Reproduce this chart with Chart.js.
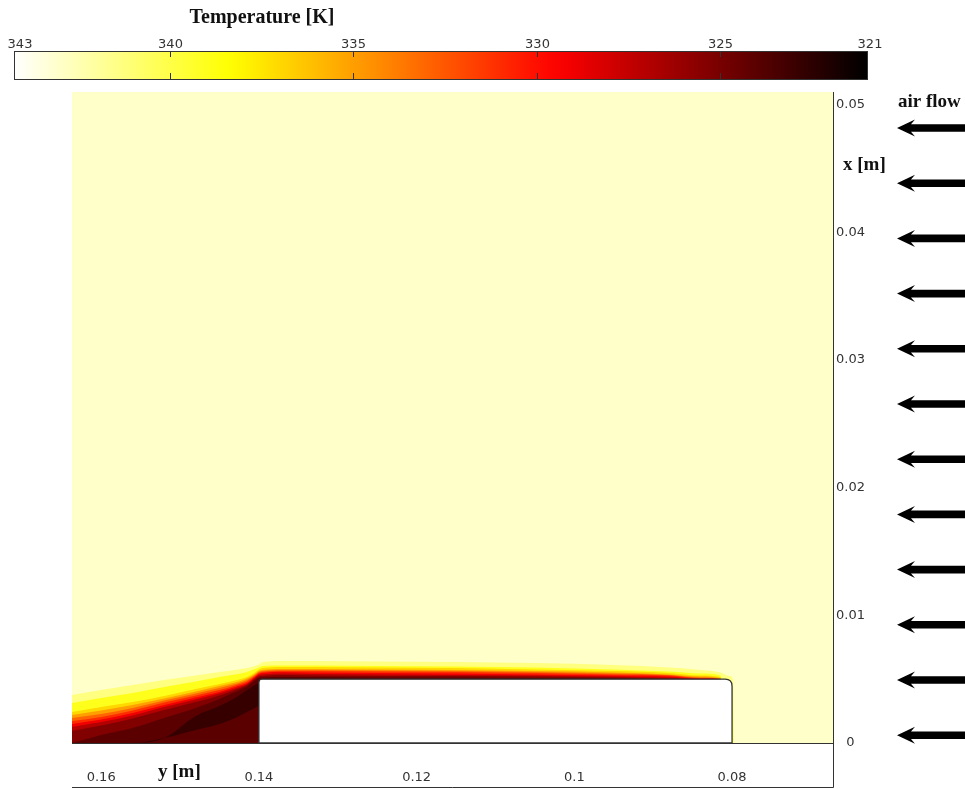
<!DOCTYPE html>
<html>
<head>
<meta charset="utf-8">
<script src="https://cdn.jsdelivr.net/npm/chart.js@4.4.0/dist/chart.umd.min.js"></script>
<style>
  html, body { margin: 0; padding: 0; background: #fff; }
</style>
</head>
<body>
<canvas id="campo" width="965" height="789"></canvas>
<script>
// colour scale (hot, white = warm, black = cold)
const cbarMin = 321, cbarMax = 344.25;
const cbarTicks = [340, 335, 330, 325];
const cbarEndLabels = ['343', '321'];
const ambientTemp = 343;

// axis ticks
const yTicks = [0.16, 0.14, 0.12, 0.10, 0.08];       // horizontal axis, y [m]
const xTicks = [0, 0.01, 0.02, 0.03, 0.04, 0.05];    // vertical axis, x [m]

// heated block (y from / to, height) in m
const block = { yFrom: 0.14, yTo: 0.08, top: 0.005 };

// stations along y [m] where isotherm heights were read
const stationsY = [0.1637, 0.160, 0.156, 0.152, 0.148, 0.145, 0.143, 0.1415, 0.1405, 0.140,
  0.1395, 0.137, 0.133, 0.125, 0.115, 0.105, 0.095, 0.088, 0.084, 0.0815, 0.0803, 0.0799, 0.0797, 0.0672];

// isotherm heights x [mm] at each station
const iso342 = [3.76, 4.15, 4.55, 4.94, 5.29, 5.56, 5.72, 5.88, 6.03, 6.15, 6.35, 6.43, 6.43, 6.39, 6.35, 6.27, 6.11, 5.92, 5.72, 5.53, 5.25, 5.0, 0, 0];
const iso340 = [3.13, 3.53, 3.92, 4.39, 4.82, 5.17, 5.37, 5.56, 5.80, 5.92, 6.03, 6.07, 6.07, 6.03, 6.00, 5.92, 5.76, 5.60, 5.45, 5.29, 0, 0, 0, 0];
const iso338 = [2.43, 2.82, 3.21, 3.68, 4.23, 4.62, 4.90, 5.17, 5.53, 5.76, 5.88, 5.96, 5.96, 5.92, 5.88, 5.76, 5.64, 5.49, 5.29, 5.17, 0, 0, 0, 0];
const iso336 = [2.19, 2.55, 2.98, 3.49, 4.04, 4.47, 4.74, 5.05, 5.41, 5.64, 5.72, 5.80, 5.80, 5.76, 5.72, 5.64, 5.53, 5.37, 5.21, 5.09, 0, 0, 0, 0];
const iso334 = [1.96, 2.27, 2.74, 3.33, 3.88, 4.31, 4.62, 4.94, 5.33, 5.56, 5.64, 5.72, 5.72, 5.68, 5.64, 5.56, 5.45, 5.33, 5.13, 5.02, 0, 0, 0, 0];
const iso332 = [1.72, 2.04, 2.55, 3.17, 3.72, 4.15, 4.51, 4.82, 5.25, 5.49, 5.56, 5.64, 5.64, 5.60, 5.56, 5.49, 5.37, 5.29, 5.09, 5.02, 0, 0, 0, 0];
const iso330 = [1.49, 1.84, 2.35, 2.98, 3.57, 4.00, 4.39, 4.70, 5.17, 5.41, 5.49, 5.56, 5.53, 5.49, 5.45, 5.37, 5.29, 5.21, 5.05, 5.02, 0, 0, 0, 0];
const iso328 = [1.25, 1.65, 2.16, 2.82, 3.41, 3.88, 4.27, 4.62, 5.09, 5.33, 5.37, 5.45, 5.41, 5.37, 5.33, 5.29, 5.21, 5.13, 5.02, 5.0, 0, 0, 0, 0];
const iso326 = [0.94, 1.37, 1.92, 2.59, 3.21, 3.72, 4.15, 4.55, 5.02, 5.21, 5.25, 5.33, 5.29, 5.25, 5.25, 5.21, 5.13, 5.05, 5.0, 5.0, 0, 0, 0, 0];
const iso324 = [0, 0.63, 1.18, 1.96, 2.74, 3.45, 4.00, 4.43, 4.90, 5.09, 5.13, 5.17, 5.17, 5.13, 5.13, 5.09, 5.05, 5.0, 5.0, 5.0, 0, 0, 0, 0];
// cold core next to the block (top and bottom edge)
const coreTop    = [0, 0, 0, 0.39, 2.12, 2.90, 3.53, 4.15, 4.55, 4.70, 0, 0, 0, 0, 0, 0, 0, 0, 0, 0, 0, 0, 0, 0];
const coreBottom = [0, 0, 0, 0.39, 1.02, 1.49, 1.96, 2.43, 2.74, 2.90, 0, 0, 0, 0, 0, 0, 0, 0, 0, 0, 0, 0, 0, 0];

function hot(T) {
    const t = Math.min(1, Math.max(0, (T - cbarMin) / (cbarMax - cbarMin)));
    const r = Math.min(1, t / 0.365);
    const g = Math.min(1, Math.max(0, (t - 0.365) / 0.381));
    const b = Math.min(1, Math.max(0, (t - 0.746) / 0.254));
    return `rgb(${Math.round(r * 255)},${Math.round(g * 255)},${Math.round(b * 255)})`;
}

function pts(arr) {
    return stationsY.map((y, i) => ({ x: y, y: arr[i] / 1000 }));
}

function banda(arr, temp, fill) {
    return {
        data: pts(arr),
        fill: fill,
        backgroundColor: hot(temp),
        borderColor: 'rgba(0,0,0,0)',
        borderWidth: 0,
        pointRadius: 0,
        cubicInterpolationMode: 'monotone'
    };
}

// first dataset is painted last (on top)
const datasets = [
    banda(coreBottom, 322.8, false),
    banda(coreTop, 322.8, '-1'),
    banda(iso324, 324, 'origin'),
    banda(iso326, 325.3, 'origin'),
    banda(iso328, 327, 'origin'),
    banda(iso330, 329, 'origin'),
    banda(iso332, 331, 'origin'),
    banda(iso334, 333, 'origin'),
    banda(iso336, 335, 'origin'),
    banda(iso338, 337, 'origin'),
    banda(iso340, 339, 'origin'),
    banda(iso342, 341.3, 'origin')
];

const tickFont = { family: 'DejaVu Sans', size: 13 };
const titleFont = 'bold 19px "Liberation Serif"';

const decor = {
    id: 'decor',
    beforeDatasetsDraw(chart) {
        const { ctx, chartArea: a } = chart;
        ctx.save();
        ctx.fillStyle = hot(ambientTemp);
        ctx.fillRect(a.left, a.top, a.right - a.left, a.bottom - a.top);
        ctx.restore();
    },
    afterDatasetsDraw(chart) {
        const { ctx, scales } = chart;
        const xl = scales.x.getPixelForValue(block.yFrom);
        const xr = scales.x.getPixelForValue(block.yTo);
        const yt = scales.y.getPixelForValue(block.top);
        const yb = scales.y.getPixelForValue(0);
        ctx.save();
        ctx.beginPath();
        ctx.moveTo(xl, yb);
        ctx.lineTo(xl, yt + 3);
        ctx.quadraticCurveTo(xl, yt, xl + 3, yt);
        ctx.lineTo(xr - 7, yt);
        ctx.quadraticCurveTo(xr, yt, xr, yt + 7);
        ctx.lineTo(xr, yb);
        ctx.closePath();
        ctx.fillStyle = '#fff';
        ctx.fill();
        ctx.strokeStyle = '#333';
        ctx.lineWidth = 1.3;
        ctx.stroke();
        ctx.restore();
    },
    afterDraw(chart) {
        const { ctx, chartArea: a } = chart;
        ctx.save();

        // box under the plot
        ctx.strokeStyle = '#333';
        ctx.lineWidth = 1;
        ctx.beginPath();
        ctx.moveTo(a.left, 787.5);
        ctx.lineTo(a.right + 0.5, 787.5);
        ctx.moveTo(a.right + 0.5, a.bottom);
        ctx.lineTo(a.right + 0.5, 787.5);
        ctx.stroke();

        // colour bar
        const cb = { left: 14, right: 867, top: 51, bottom: 79 };
        const grad = ctx.createLinearGradient(cb.left, 0, cb.right, 0);
        for (let k = 0; k <= 40; k++) {
            grad.addColorStop(k / 40, hot(cbarMax - k / 40 * (cbarMax - cbarMin)));
        }
        ctx.fillStyle = grad;
        ctx.fillRect(cb.left, cb.top, cb.right - cb.left, cb.bottom - cb.top);
        ctx.strokeStyle = '#333';
        ctx.strokeRect(cb.left + 0.5, cb.top + 0.5, cb.right - cb.left, cb.bottom - cb.top);

        const cbx = T => cb.left + (cbarMax - T) / (cbarMax - cbarMin) * (cb.right - cb.left);
        ctx.font = '13px "DejaVu Sans"';
        ctx.fillStyle = '#333';
        ctx.textAlign = 'center';
        ctx.textBaseline = 'alphabetic';
        cbarTicks.forEach(T => {
            const x = Math.round(cbx(T)) + 0.5;
            ctx.beginPath();
            ctx.moveTo(x, cb.top);
            ctx.lineTo(x, cb.top + 6);
            ctx.moveTo(x, cb.bottom);
            ctx.lineTo(x, cb.bottom - 6);
            ctx.stroke();
            ctx.fillText(String(T), x, 47.5);
        });
        ctx.fillText(cbarEndLabels[0], cb.left + 6, 47.5);
        ctx.fillText(cbarEndLabels[1], cb.right + 3, 47.5);

        // titles
        ctx.fillStyle = '#111';
        ctx.font = 'bold 20px "Liberation Serif"';
        ctx.fillText('Temperature [K]', 262, 23);
        ctx.font = titleFont;
        ctx.textAlign = 'left';
        ctx.fillText('air flow', 898, 107);
        ctx.fillText('x [m]', 843, 170);
        ctx.fillText('y [m]', 158, 777);

        // air flow arrows
        ctx.fillStyle = '#000';
        for (let i = 0; i < 12; i++) {
            const cy = 128 + i * 55.2;
            ctx.beginPath();
            ctx.moveTo(897, cy);
            ctx.lineTo(915, cy - 8.5);
            ctx.lineTo(911, cy - 3.8);
            ctx.lineTo(965, cy - 3.8);
            ctx.lineTo(965, cy + 3.8);
            ctx.lineTo(911, cy + 3.8);
            ctx.lineTo(915, cy + 8.5);
            ctx.closePath();
            ctx.fill();
        }
        ctx.restore();
    }
};

new Chart(document.getElementById('campo'), {
    type: 'line',
    data: { datasets: datasets },
    options: {
        responsive: false,
        animation: false,
        layout: { padding: { left: 72, top: 92, right: 0, bottom: 2 } },
        plugins: { legend: { display: false }, tooltip: { enabled: false } },
        scales: {
            x: {
                type: 'linear',
                reverse: true,
                min: 0.0672,
                max: 0.1637,
                position: 'bottom',
                grid: { display: false, drawTicks: false },
                border: { display: true, color: '#333', width: 1 },
                ticks: {
                    font: tickFont,
                    color: '#333',
                    padding: 27,
                    maxRotation: 0,
                    callback: v => String(+v.toFixed(2))
                },
                afterBuildTicks: s => { s.ticks = yTicks.map(v => ({ value: v })); },
                afterFit: s => { s.height = 44; }
            },
            y: {
                type: 'linear',
                position: 'right',
                min: 0,
                max: 0.051,
                grid: { display: false, drawTicks: false },
                border: { display: true, color: '#333', width: 1 },
                ticks: {
                    font: tickFont,
                    color: '#333',
                    padding: 3,
                    crossAlign: 'center',
                    callback: v => String(+v.toFixed(2))
                },
                afterBuildTicks: s => { s.ticks = xTicks.map(v => ({ value: v })); },
                afterFit: s => { s.width = 132; }
            }
        }
    },
    plugins: [decor]
});
</script>
</body>
</html>
